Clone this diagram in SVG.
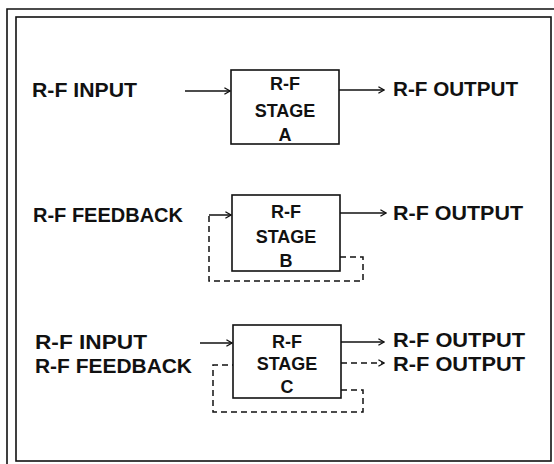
<svg xmlns="http://www.w3.org/2000/svg" width="554" height="464" viewBox="0 0 554 464">
<style>
.lbl{font-family:"Liberation Sans",Arial,sans-serif;font-weight:bold;font-size:20px;fill:#111}
.bt{font-family:"Liberation Sans",Arial,sans-serif;font-weight:bold;font-size:18px;fill:#111;text-anchor:middle}
.box{fill:#fff;stroke:#111;stroke-width:1.6}
.ln{fill:none;stroke:#111;stroke-width:1.5}
.dash{fill:none;stroke:#111;stroke-width:1.5;stroke-dasharray:6 4}
.frame{fill:none;stroke:#111;stroke-width:1.6}
</style>
<defs>
<marker id="arr" viewBox="0 0 10 10" refX="9" refY="5" markerWidth="8" markerHeight="8" markerUnits="userSpaceOnUse" orient="auto">
<path d="M2,1 L9,5 L2,9" fill="none" stroke="#111" stroke-width="1.6"/>
</marker>
</defs>
<rect width="554" height="464" fill="#fff"/>
<g id="frame">
<path class="frame" d="M7,464 V9 H554"/>
<rect class="frame" x="16" y="17" width="535" height="444"/>
</g>
<g id="connectors">
<path class="ln" d="M185,91 H230" marker-end="url(#arr)"/>
<path class="ln" d="M339,90 H384" marker-end="url(#arr)"/>
<path class="dash" d="M340,257 H363 V281 H209 V215"/>
<path class="ln" d="M209,215 H231" marker-end="url(#arr)"/>
<path class="ln" d="M340,213 H386" marker-end="url(#arr)"/>
<path class="ln" d="M200,343 H232" marker-end="url(#arr)"/>
<path class="dash" d="M341,390 H363 V412 H213 V365 H233"/>
<path class="ln" d="M341,342 H384" marker-end="url(#arr)"/>
<path class="dash" d="M341,363 H384" marker-end="url(#arr)"/>
</g>
<g id="stageA">
<rect class="box" x="231" y="70" width="108" height="74"/>
<text class="bt" x="285" y="90">R-F</text>
<text class="bt" x="285" y="117">STAGE</text>
<text class="bt" x="285" y="141">A</text>
</g>
<g id="stageB">
<rect class="box" x="232" y="195" width="108" height="76"/>
<text class="bt" x="286" y="218">R-F</text>
<text class="bt" x="286" y="243">STAGE</text>
<text class="bt" x="286" y="267">B</text>
</g>
<g id="stageC">
<rect class="box" x="233" y="325" width="108" height="73"/>
<text class="bt" x="287" y="348">R-F</text>
<text class="bt" x="287" y="370">STAGE</text>
<text class="bt" x="287" y="393">C</text>
</g>
<g id="labels">
<text class="lbl" x="32" y="97" textLength="105" lengthAdjust="spacingAndGlyphs">R-F INPUT</text>
<text class="lbl" x="393" y="96" textLength="125" lengthAdjust="spacingAndGlyphs">R-F OUTPUT</text>
<text class="lbl" x="33" y="222" textLength="150" lengthAdjust="spacingAndGlyphs">R-F FEEDBACK</text>
<text class="lbl" x="393" y="220" textLength="130" lengthAdjust="spacingAndGlyphs">R-F OUTPUT</text>
<text class="lbl" x="35" y="349" textLength="112" lengthAdjust="spacingAndGlyphs">R-F INPUT</text>
<text class="lbl" x="35" y="373" textLength="157" lengthAdjust="spacingAndGlyphs">R-F FEEDBACK</text>
<text class="lbl" x="393" y="347" textLength="132" lengthAdjust="spacingAndGlyphs">R-F OUTPUT</text>
<text class="lbl" x="393" y="371" textLength="132" lengthAdjust="spacingAndGlyphs">R-F OUTPUT</text>
</g>
</svg>
